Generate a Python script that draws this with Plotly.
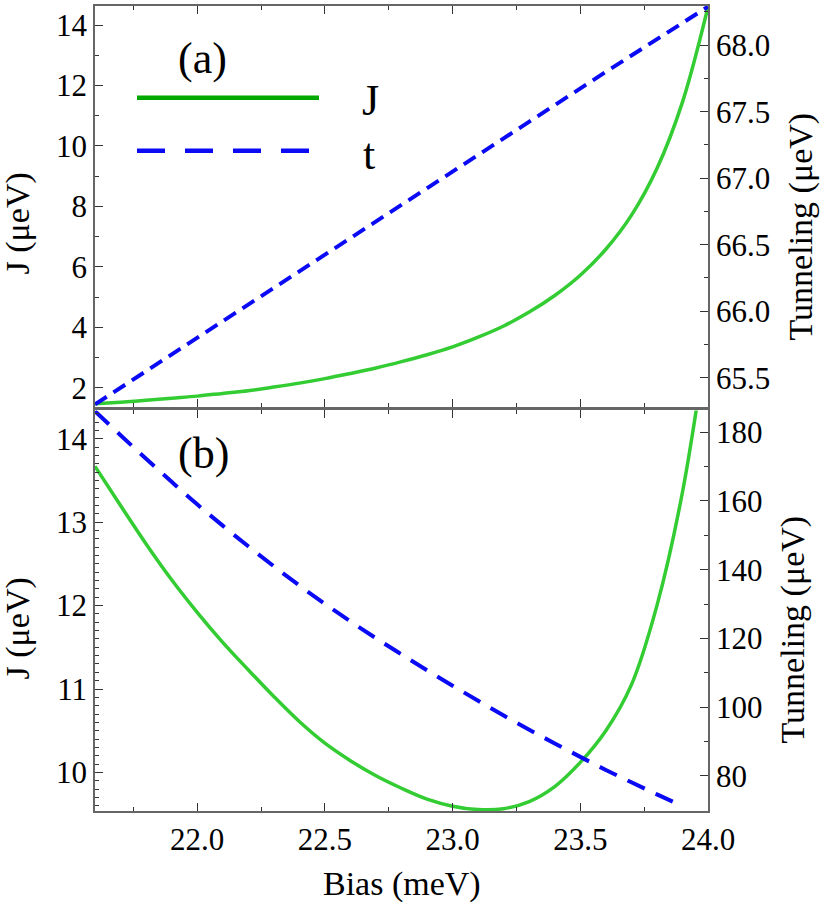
import plotly.graph_objects as go

# ---------------- data ----------------
# Panel (a)
bias_J_top = [21.6, 21.7, 21.8, 21.9, 22.0, 22.1, 22.2, 22.3, 22.4, 22.5, 22.6, 22.7,
              22.8, 22.9, 23.0, 23.1, 23.2, 23.3, 23.4, 23.5, 23.6, 23.7, 23.8, 23.9, 24.0]
J_top = [1.47, 1.52, 1.58, 1.65, 1.72, 1.81, 1.90, 2.02, 2.15, 2.30, 2.47, 2.65,
         2.86, 3.09, 3.35, 3.67, 4.04, 4.50, 5.05, 5.72, 6.58, 7.70, 9.25, 11.45, 14.6]
bias_t_top = [21.6, 22.0, 22.4, 22.8, 23.2, 23.6, 24.0]
t_top = [65.30, 65.80, 66.30, 66.80, 67.30, 67.80, 68.29]

# Panel (b)
bias_J_bot = [21.6, 21.7, 21.8, 21.9, 22.0, 22.1, 22.2, 22.3, 22.4, 22.5, 22.6, 22.7,
              22.8, 22.9, 23.0, 23.1, 23.2, 23.3, 23.4, 23.5, 23.6, 23.7, 23.8, 23.9, 24.0]
J_bot = [13.67, 13.20, 12.74, 12.31, 11.92, 11.56, 11.23, 10.91, 10.61, 10.35, 10.14, 9.96,
         9.81, 9.68, 9.595, 9.555, 9.565, 9.65, 9.83, 10.12, 10.50, 11.05, 12.00, 13.36, 15.3]
bias_t_bot = [21.6, 21.7, 21.8, 21.9, 22.0, 22.1, 22.2, 22.3, 22.4, 22.5, 22.6, 22.7,
              22.8, 22.9, 23.0, 23.1, 23.2, 23.3, 23.4, 23.5, 23.6, 23.7, 23.8, 23.9]
t_bot = [186.1, 179.1, 172.25, 165.55, 159.0, 152.8, 146.8, 141.0, 135.4, 130.05, 124.95, 120.05,
         115.35, 110.75, 106.25, 101.85, 97.55, 93.45, 89.45, 85.55, 81.75, 78.15, 74.65, 71.25]

x_ticks = [22.0, 22.5, 23.0, 23.5, 24.0]
series_names = ["J", "t"]

# ---------------- style ----------------
FONT = "Liberation Serif, Times New Roman, Times, DejaVu Serif, serif"
GREEN = "#33cc33"
GREEN_LEG = "#00a800"
BLUE = "#0a0af5"
FRAME = "#666666"
TICK_FS = 31
TITLE_FS = 34

W, H = 822, 906
ML, MR, MT, MB = 95, 114, 4, 95
PW = W - ML - MR
PH = H - MT - MB


def px(x):
    return (x - ML) / PW


def py(y):
    return (H - MB - y) / PH


fig = go.Figure()

fig.add_trace(go.Scatter(x=bias_J_bot, y=J_bot, xaxis="x", yaxis="y", mode="lines",
                         line=dict(color=GREEN, width=3.5, shape="spline", smoothing=1.0),
                         name=series_names[0], showlegend=False))
fig.add_trace(go.Scatter(x=bias_t_bot, y=t_bot, xaxis="x", yaxis="y2", mode="lines",
                         line=dict(color=BLUE, width=4, dash="19px,12px", shape="spline", smoothing=1.0),
                         name=series_names[1], showlegend=False))
fig.add_trace(go.Scatter(x=bias_J_top, y=J_top, xaxis="x2", yaxis="y3", mode="lines",
                         line=dict(color=GREEN, width=3.5, shape="spline", smoothing=1.0),
                         name=series_names[0], showlegend=False))
fig.add_trace(go.Scatter(x=bias_t_top, y=t_top, xaxis="x2", yaxis="y4", mode="lines",
                         line=dict(color=BLUE, width=4, dash="14px,8px"),
                         name=series_names[1], showlegend=False))

tickfont = dict(family=FONT, size=TICK_FS, color="black")
common = dict(showgrid=False, zeroline=False, showline=True, linecolor=FRAME, linewidth=1.5,
              ticks="inside", ticklen=8, tickwidth=1.2, tickcolor="#333333",
              tickfont=tickfont)


def minor(d):
    return dict(dtick=d, ticklen=4, ticks="inside", tickcolor="#333333", showgrid=False)


top_dom = [py(406), 1.0]
bot_dom = [0.0, py(409.5)]

fig.update_layout(
    width=W, height=H,
    margin=dict(l=ML, r=MR, t=MT, b=MB),
    paper_bgcolor="white", plot_bgcolor="white",
    showlegend=False,
    font=dict(family=FONT),
    xaxis=dict(domain=[0, 1], anchor="y", range=[21.6, 24.0], tickvals=x_ticks,
               ticktext=[f"{v:.1f}" for v in x_ticks], mirror="ticks",
               minor=dict(tick0=21.5, **minor(0.25)), **common),
    xaxis2=dict(domain=[0, 1], anchor="y3", range=[21.6, 24.0], matches="x", tickvals=x_ticks,
                showticklabels=False, mirror="ticks",
                minor=dict(tick0=21.5, **minor(0.25)), **common),
    yaxis=dict(domain=bot_dom, anchor="x", range=[9.537, 14.34], dtick=1, tick0=0, side="left",
               minor=dict(tick0=0, **minor(0.1)), **common),
    yaxis2=dict(overlaying="y", anchor="x", side="right", range=[69.8, 186.3], dtick=20, tick0=0,
                minor=dict(tick0=0, **minor(10)), **common),
    yaxis3=dict(domain=top_dom, anchor="x2", range=[1.36, 14.63], dtick=2, tick0=0, side="left",
                minor=dict(tick0=0, **minor(1)), **common),
    yaxis4=dict(overlaying="y3", anchor="x2", side="right", range=[65.28, 68.295], dtick=0.5, tick0=0,
                tickformat=".1f", minor=dict(tick0=0, **minor(0.25)), **common),
)

# legend drawn by hand (long line samples as in the reference)
fig.add_shape(type="line", xref="paper", yref="paper", x0=px(137), x1=px(319), y0=py(96), y1=py(96),
              line=dict(color=GREEN_LEG, width=4.5))
fig.add_shape(type="line", xref="paper", yref="paper", x0=px(137), x1=px(310), y0=py(149), y1=py(149),
              line=dict(color=BLUE, width=4.5, dash="28px,20px"))

ann_font = dict(family=FONT, size=44, color="black")
title_font = dict(family=FONT, size=TITLE_FS, color="black")
annotations = [
    dict(text="J", x=px(370), y=py(99), font=ann_font),
    dict(text="t", x=px(369), y=py(153), font=ann_font),
    dict(text="(a)", x=px(202), y=py(57), font=ann_font),
    dict(text="(b)", x=px(203), y=py(453), font=ann_font),
    dict(text="J (μeV)", x=px(18), y=py(222), textangle=-90, font=title_font),
    dict(text="J (μeV)", x=px(18), y=py(628), textangle=-90, font=title_font),
    dict(text="Tunneling (μeV)", x=px(801), y=py(225), textangle=-90, font=title_font),
    dict(text="Tunneling (μeV)", x=px(793), y=py(629), textangle=-90, font=title_font),
    dict(text="Bias (meV)", x=px(402), y=py(884), font=title_font),
]
for a in annotations:
    fig.add_annotation(xref="paper", yref="paper", showarrow=False,
                       xanchor="center", yanchor="middle", **a)

fig.write_html("out.html", config={"displayModeBar": False},
               post_script="document.body.style.margin='0';document.body.style.padding='0';")
